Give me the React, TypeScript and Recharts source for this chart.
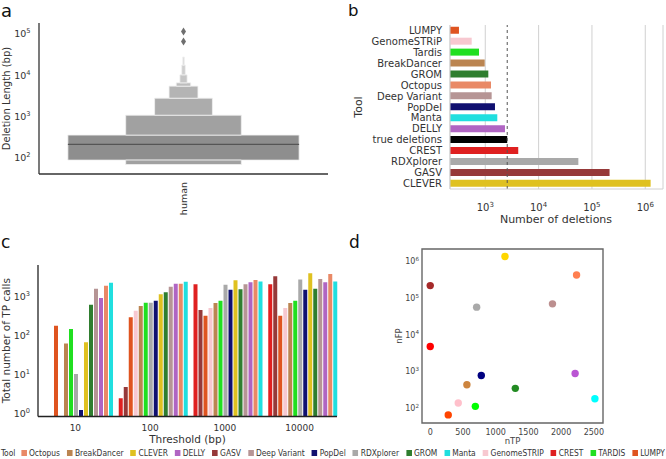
import React from 'react';
import {
  ComposedChart, BarChart, ScatterChart, Bar, Scatter, XAxis, YAxis,
  CartesianGrid, ReferenceArea, ReferenceLine, Cell,
} from 'recharts';

const FONT = '"DejaVu Sans", Verdana, sans-serif';
const NARROW = '"Liberation Sans Narrow", "DejaVu Sans Condensed", "Liberation Sans", sans-serif';

// ---------------- panel a : deletion length boxen plot ----------------
const boxLevel = [0, 1, 1, 2, 3, 4, 5, 6, 7];
const boxLow = [87, 352, 68, 1070, 2770, 5430, 6530, 10200, 17600];
const boxHigh = [352, 1070, 87, 2770, 5430, 6530, 10200, 17600, 27600];
const deletionMedian = 209;
const deletionOutliers = [115000, 66000];
const aTicks = [100, 1000, 10000, 100000];
const aCategory = 'human';

// ---------------- panel b : number of deletions ----------------
const bTools = ['LUMPY', 'GenomeSTRiP', 'Tardis', 'BreakDancer', 'GROM', 'Octopus', 'Deep Variant',
  'PopDel', 'Manta', 'DELLY', 'true deletions', 'CREST', 'RDXplorer', 'GASV', 'CLEVER'];
const bCounts = [321, 556, 763, 975, 1140, 1280, 1317, 1520, 1680, 2340, 2580, 4150, 55600, 214000, 1260000];
const trueDeletionCount = 2580;
const bTicks = [1000, 10000, 100000, 1000000];

// ---------------- panel c : TP calls per threshold ----------------
const thresholds = ['10', '100', '1000', '10000'];
const cTools = ['CREST', 'GASV', 'LUMPY', 'GenomeSTRiP', 'BreakDancer', 'Tardis', 'RDXplorer', 'PopDel',
  'CLEVER', 'GROM', 'Deep Variant', 'DELLY', 'Octopus', 'Manta'];
const tpCREST = [null, 2.45, 2040, 2040];
const tpGASV = [null, 4.8, 445, 3230];
const tpLUMPY = [176, 290, 318, 318];
const tpGenomeSTRiP = [null, 425, 500, 500];
const tpBreakDancer = [62, 560, 670, 670];
const tpTardis = [145, 684, 767, 767];
const tpRDXplorer = [10.2, 684, 1970, 2700];
const tpPopDel = [1.23, 767, 1470, 1470];
const tpCLEVER = [67, 1120, 2560, 3850];
const tpGROM = [605, 1260, 1510, 1560];
const tpDeepVariant = [1550, 1750, 2040, 2760];
const tpDELLY = [900, 2090, 2270, 2270];
const tpOctopus = [1860, 2090, 2600, 3700];
const tpManta = [2210, 2350, 2400, 2400];
const cTicks = [1, 10, 100, 1000];

// ---------------- panel d : nTP vs nFP ----------------
const dTools = ['CLEVER', 'Octopus', 'GASV', 'RDXplorer', 'Deep Variant', 'CREST', 'PopDel', 'DELLY',
  'BreakDancer', 'GROM', 'Manta', 'GenomeSTRiP', 'Tardis', 'LUMPY'];
const dTP = [1142, 2236, 0, 709, 1868, 0, 780, 2214, 560, 1300, 2516, 428, 689, 275];
const dFP = [1370000, 431000, 220000, 56900, 70000, 4800, 770, 880, 434, 344, 179, 137, 111, 65];
const dXTicks = [0, 500, 1000, 1500, 2000, 2500];
const dYTicks = [100, 1000, 10000, 100000, 1000000];

// ---------------- legend ----------------
const legendTools = ['Octopus', 'BreakDancer', 'CLEVER', 'DELLY', 'GASV', 'Deep Variant', 'PopDel',
  'RDXplorer', 'GROM', 'Manta', 'GenomeSTRiP', 'CREST', 'Tardis', 'LUMPY'];
const legendLabels = ['Octopus', 'BreakDancer', 'CLEVER', 'DELLY', 'GASV', 'Deep Variant', 'PopDel',
  'RDXplorer', 'GROM', 'Manta', 'GenomeSTRIP', 'CREST', 'TARDIS', 'LUMPY'];

// ---------------- styling ----------------
const PURE: Record<string, string> = {
  CREST: '#ff0000', GASV: '#a52a2a', LUMPY: '#ff4500', GenomeSTRiP: '#ffc0cb', BreakDancer: '#cd853f',
  Tardis: '#00ff00', RDXplorer: '#a9a9a9', PopDel: '#000080', CLEVER: '#ffd700', GROM: '#228b22',
  'Deep Variant': '#bc8f8f', DELLY: '#ba55d3', Octopus: '#ff7f50', Manta: '#00ffff', 'true deletions': '#000000',
};

function desat(hex: string, prop = 0.75): string {
  const r = parseInt(hex.slice(1, 3), 16) / 255;
  const g = parseInt(hex.slice(3, 5), 16) / 255;
  const b = parseInt(hex.slice(5, 7), 16) / 255;
  const mx = Math.max(r, g, b), mn = Math.min(r, g, b);
  const l = (mx + mn) / 2;
  let h = 0, s = 0;
  if (mx !== mn) {
    const d = mx - mn;
    s = l > 0.5 ? d / (2 - mx - mn) : d / (mx + mn);
    if (mx === r) h = (g - b) / d + (g < b ? 6 : 0);
    else if (mx === g) h = (b - r) / d + 2;
    else h = (r - g) / d + 4;
    h /= 6;
  }
  s *= prop;
  let rr = l, gg = l, bb = l;
  if (s > 0) {
    const m2 = l <= 0.5 ? l * (1 + s) : l + s - l * s;
    const m1 = 2 * l - m2;
    const v = (hh: number) => {
      hh = ((hh % 1) + 1) % 1;
      if (hh < 1 / 6) return m1 + (m2 - m1) * hh * 6;
      if (hh < 0.5) return m2;
      if (hh < 2 / 3) return m1 + (m2 - m1) * (2 / 3 - hh) * 6;
      return m1;
    };
    rr = v(h + 1 / 3); gg = v(h); bb = v(h - 1 / 3);
  }
  const to = (x: number) => Math.round(x * 255).toString(16).padStart(2, '0');
  return '#' + to(rr) + to(gg) + to(bb);
}

const levelGray = ['#8e8e8e', '#a1a1a1', '#acacac', '#b4b4b4', '#bdbdbd', '#c6c6c6', '#cfcfcf', '#dedede'];

// ---------------- ticks ----------------
const LogTickLeft = (p: any) => {
  const { x, y, payload, fs, gap, color } = p;
  const e = Math.round(Math.log10(payload.value));
  return (
    <text x={x - gap} y={y + fs * 0.36} textAnchor="end" fontSize={fs} fill={color || '#333'} fontFamily={FONT}>
      10<tspan dy={-fs * 0.42} fontSize={fs * 0.7}>{e}</tspan>
    </text>
  );
};
const LogTickBottom = (p: any) => {
  const { x, y, payload, fs, off, color } = p;
  const e = Math.round(Math.log10(payload.value));
  return (
    <text x={x} y={y + off} textAnchor="middle" fontSize={fs} fill={color || '#333'} fontFamily={FONT}>
      10<tspan dy={-fs * 0.42} fontSize={fs * 0.7}>{e}</tspan>
    </text>
  );
};
const PlainTickBottom = (p: any) => {
  const { x, y, payload, fs, off, color } = p;
  return (
    <text x={x} y={y + off} textAnchor="middle" fontSize={fs} fill={color || '#333'} fontFamily={FONT}>
      {payload.value}
    </text>
  );
};
const HumanTick = (p: any) => {
  const { x, y } = p;
  return (
    <text transform={`translate(${x + 3.5},${y + 8}) rotate(-90)`} textAnchor="end" fontSize={9.5} fill="#333" fontFamily={FONT}>
      {aCategory}
    </text>
  );
};

const Diamond = (p: any) => {
  const { cx, cy } = p;
  return <path d={`M${cx},${cy - 4} L${cx + 2.5},${cy} L${cx},${cy + 4} L${cx - 2.5},${cy} Z`} fill="#6f6f6f" />;
};
const Dot = (p: any) => <circle cx={p.cx} cy={p.cy} r={3.7} fill={p.fill} />;

// ---------------- data tables ----------------
const outlierData = deletionOutliers.map((v) => ({ x: 0, y: v }));
const bData = bTools.map((t, i) => ({ tool: t, count: bCounts[i] }));
const tpSeries: Record<string, (number | null)[]> = {
  CREST: tpCREST, GASV: tpGASV, LUMPY: tpLUMPY, GenomeSTRiP: tpGenomeSTRiP, BreakDancer: tpBreakDancer,
  Tardis: tpTardis, RDXplorer: tpRDXplorer, PopDel: tpPopDel, CLEVER: tpCLEVER, GROM: tpGROM,
  'Deep Variant': tpDeepVariant, DELLY: tpDELLY, Octopus: tpOctopus, Manta: tpManta,
};
const cData = thresholds.map((th, i) => {
  const row: any = { th };
  cTools.forEach((t) => { row[t] = tpSeries[t][i]; });
  return row;
});
const dData = dTools.map((t, i) => ({ tool: t, tp: dTP[i], fp: dFP[i] }));

// ---------------- panels ----------------
const PanelA = () => (
  <ComposedChart width={340} height={230} margin={{ top: 23, right: 12, bottom: 6, left: 8 }}>
    <XAxis type="number" dataKey="x" domain={[-0.5, 0.5]} allowDataOverflow ticks={[0]} interval={0}
      height={50} tickLine={false} tickSize={0} tickMargin={0}
      axisLine={{ stroke: '#333', strokeWidth: 1.3 }} tick={HumanTick} />
    <YAxis type="number" dataKey="y" scale="log" domain={[40, 185000]} allowDataOverflow ticks={aTicks}
      interval={0} width={31} tickLine={false} tickSize={0} tickMargin={0}
      axisLine={{ stroke: '#333', strokeWidth: 1.3 }}
      tick={(p: any) => <LogTickLeft {...p} fs={9.5} gap={8.5} />} />
    {boxLow.map((lo, i) => {
      const hw = 0.4 * Math.pow(0.5, boxLevel[i]);
      return (
        <ReferenceArea key={i} x1={-hw} x2={hw} y1={lo} y2={boxHigh[i]} fill={levelGray[boxLevel[i]]}
          fillOpacity={1} stroke="#f0f0f0" strokeWidth={0.8} ifOverflow="visible" />
      );
    })}
    <ReferenceLine segment={[{ x: -0.4, y: deletionMedian }, { x: 0.4, y: deletionMedian }]}
      stroke="#555" strokeWidth={1.2} />
    <Scatter data={outlierData} dataKey="y" fill="#6f6f6f" shape={Diamond} isAnimationActive={false} />
  </ComposedChart>
);

const PanelB = () => (
  <BarChart width={333} height={230} layout="vertical" data={bData}
    margin={{ top: 25, right: 3, bottom: 6, left: 0 }} barCategoryGap="16%">
    <CartesianGrid horizontal={false} stroke="#d0d0d0" strokeWidth={1} />
    <XAxis type="number" dataKey="count" scale="log" domain={[218, 2150000]} allowDataOverflow ticks={bTicks}
      interval={0} height={35} tickLine={false} tickSize={0} tickMargin={0}
      axisLine={{ stroke: '#d0d0d0' }}
      tick={(p: any) => <LogTickBottom {...p} fs={10} off={22} />} />
    <YAxis type="category" dataKey="tool" width={117} tickLine={false} interval={0}
      axisLine={{ stroke: '#d0d0d0' }} tick={{ fontSize: 10, fill: '#333', fontFamily: FONT }} />
    <Bar dataKey="count" isAnimationActive={false}>
      {bData.map((d) => <Cell key={d.tool} fill={desat(PURE[d.tool])} />)}
    </Bar>
    <ReferenceLine x={trueDeletionCount} stroke="#555" strokeDasharray="3 3" strokeWidth={1} />
  </BarChart>
);

const PanelC = () => (
  <BarChart width={340} height={221} data={cData} margin={{ top: 35, right: 3, bottom: 6.5, left: 0 }}
    barCategoryGap={6} barGap={1}>
    <XAxis dataKey="th" height={28} tickLine={false} tickSize={0} tickMargin={0} interval={0}
      axisLine={{ stroke: '#222', strokeWidth: 1.3 }}
      tick={(p: any) => <PlainTickBottom {...p} fs={9} off={14.5} />} />
    <YAxis type="number" scale="log" domain={[0.84, 6300]} allowDataOverflow ticks={cTicks} interval={0}
      width={38} tickLine={false} tickSize={0} tickMargin={0}
      axisLine={{ stroke: '#222', strokeWidth: 1.3 }}
      tick={(p: any) => <LogTickLeft {...p} fs={9.5} gap={8} />} />
    {cTools.map((t) => (
      <Bar key={t} dataKey={t} fill={desat(PURE[t])} isAnimationActive={false} />
    ))}
  </BarChart>
);

const PanelD = () => (
  <ScatterChart width={333} height={218} margin={{ top: 19, right: 63, bottom: 5, left: 54 }}>
    <XAxis type="number" dataKey="tp" domain={[-126, 2640]} allowDataOverflow ticks={dXTicks} interval={0}
      height={20} axisLine={false} tickLine={false} tickSize={0} tickMargin={0}
      tick={(p: any) => <PlainTickBottom {...p} fs={8} off={11.5} color="#444" />} />
    <YAxis type="number" dataKey="fp" scale="log" domain={[39, 2200000]} allowDataOverflow ticks={dYTicks}
      interval={0} width={35} axisLine={false} tickLine={false} tickSize={0} tickMargin={0}
      tick={(p: any) => <LogTickLeft {...p} fs={8} gap={3} color="#444" />} />
    <ReferenceArea x1={-126} x2={2640} y1={39} y2={2200000} fill="none" stroke="#666" strokeWidth={1.4}
      ifOverflow="visible" />
    <Scatter data={dData} shape={Dot} isAnimationActive={false}>
      {dData.map((d) => <Cell key={d.tool} fill={PURE[d.tool]} />)}
    </Scatter>
  </ScatterChart>
);

const Legend = () => (
  <div style={{
    position: 'absolute', left: 0, top: 447, height: 12, display: 'flex', alignItems: 'center',
    fontFamily: NARROW, fontSize: 9, color: '#333', whiteSpace: 'nowrap', lineHeight: '12px',
    transform: 'scaleX(0.93)', transformOrigin: '0 50%',
  }}>
    <span style={{ marginLeft: 1, marginRight: 6 }}>Tool</span>
    {legendTools.map((t, i) => (
      <span key={t} style={{ display: 'flex', alignItems: 'center', marginRight: 7.5 }}>
        <span style={{ display: 'inline-block', width: 6, height: 6, background: desat(PURE[t]), marginRight: 2.5 }} />
        {legendLabels[i]}
      </span>
    ))}
  </div>
);

const Overlay = () => (
  <svg width={666} height={459} style={{ position: 'absolute', left: 0, top: 0, pointerEvents: 'none' }}
    fontFamily={FONT}>
    <text x={1} y={17} fontSize={18} fill="#111">a</text>
    <text x={348} y={16} fontSize={16.5} fill="#111">b</text>
    <text x={1} y={248} fontSize={17} fill="#111">c</text>
    <text x={349} y={248} fontSize={17} fill="#111">d</text>
    <text transform="translate(10,98.5) rotate(-90)" textAnchor="middle" fontSize={10} fill="#333">Deletion Length (bp)</text>
    <text transform="translate(362,107) rotate(-90)" textAnchor="middle" fontSize={11} fill="#333">Tool</text>
    <text x={556} y={222.5} textAnchor="middle" fontSize={11} fill="#333">Number of deletions</text>
    <text transform="translate(10,340.7) rotate(-90)" textAnchor="middle" fontSize={10.5} fill="#333">Total number of TP calls</text>
    <text x={187.5} y={443} textAnchor="middle" fontSize={10.5} fill="#333">Threshold (bp)</text>
    <text transform="translate(402,336) rotate(-90)" textAnchor="middle" fontSize={8.5} fill="#444">nFP</text>
    <text x={512.5} y={444} textAnchor="middle" fontSize={8.5} fill="#444">nTP</text>
  </svg>
);

export default function App() {
  return (
    <div style={{ position: 'absolute', left: 0, top: 0, width: 666, height: 459, background: '#fff', overflow: 'hidden', fontFamily: FONT }}>
      <div style={{ position: 'absolute', left: 0, top: 0 }}><PanelA /></div>
      <div style={{ position: 'absolute', left: 333, top: 0 }}><PanelB /></div>
      <div style={{ position: 'absolute', left: 0, top: 230 }}><PanelC /></div>
      <div style={{ position: 'absolute', left: 333, top: 230 }}><PanelD /></div>
      <Legend />
      <Overlay />
    </div>
  );
}
